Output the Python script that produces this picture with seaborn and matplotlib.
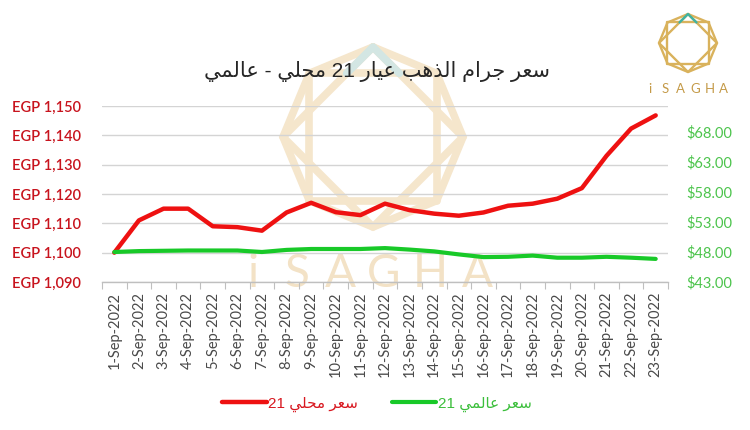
import matplotlib
matplotlib.use("Agg")
import matplotlib.pyplot as plt
from matplotlib.ticker import FixedLocator, FuncFormatter
from matplotlib.lines import Line2D
import seaborn as sns
import pandas as pd
import numpy as np

# data
dates = ["1-Sep-2022", "2-Sep-2022", "3-Sep-2022", "4-Sep-2022", "5-Sep-2022",
         "6-Sep-2022", "7-Sep-2022", "8-Sep-2022", "9-Sep-2022", "10-Sep-2022",
         "11-Sep-2022", "12-Sep-2022", "13-Sep-2022", "14-Sep-2022", "15-Sep-2022",
         "16-Sep-2022", "17-Sep-2022", "18-Sep-2022", "19-Sep-2022", "20-Sep-2022",
         "21-Sep-2022", "22-Sep-2022", "23-Sep-2022"]
local_egp = [1100, 1111, 1115, 1115, 1109, 1108.7, 1107.5, 1113.7, 1117, 1113.8,
             1112.8, 1116.7, 1114.5, 1113.3, 1112.6, 1113.7, 1116, 1116.7, 1118.4,
             1122, 1133, 1142.3, 1146.8]
global_usd = [48.0, 48.15, 48.2, 48.25, 48.25, 48.25, 48.0, 48.35, 48.5, 48.5,
              48.5, 48.65, 48.4, 48.1, 47.6, 47.15, 47.2, 47.4, 47.05, 47.05,
              47.2, 47.05, 46.85]
left_ticks = [1090, 1100, 1110, 1120, 1130, 1140, 1150]
right_ticks = [43, 48, 53, 58, 63, 68]

title_ar = "سعر جرام الذهب عيار 21 محلي - عالمي"
label_local = "سعر محلي 21"
label_global = "سعر عالمي 21"

RED = "#ee1111"
GREEN = "#18c928"


# minimal arabic shaping (matplotlib has no bidi / joining support)
DUAL = {"ب": 0xFE8F, "ج": 0xFE9D, "ح": 0xFEA1, "س": 0xFEB1, "ع": 0xFEC9,
        "ل": 0xFEDD, "م": 0xFEE1, "ه": 0xFEE9, "ي": 0xFEF1}
RIGHT = {"ا": 0xFE8D, "ذ": 0xFEAB, "ر": 0xFEAD}


def shape_ar(s):
    out = []
    for i, ch in enumerate(s):
        if ch not in DUAL and ch not in RIGHT:
            out.append(ch)
            continue
        prev = s[i - 1] if i > 0 else ""
        nxt = s[i + 1] if i + 1 < len(s) else ""
        joins_prev = prev in DUAL
        joins_next = ch in DUAL and (nxt in DUAL or nxt in RIGHT)
        if ch in RIGHT:
            out.append(chr(RIGHT[ch] + (1 if joins_prev else 0)))
        else:
            off = 3 if (joins_prev and joins_next) else 1 if joins_prev else 2 if joins_next else 0
            out.append(chr(DUAL[ch] + off))
    vis = "".join(out)[::-1]
    # put digit runs back in reading order
    res, run = "", ""
    for ch in vis:
        if ch.isdigit():
            run += ch
        else:
            res += run[::-1] + ch
            run = ""
    return res + run[::-1]


df = pd.DataFrame({"pos": range(len(dates)), "date": dates,
                   "local": local_egp, "global": global_usd})

sns.set_theme(style="white")
plt.rcParams["font.family"] = ["Lato", "DejaVu Sans"]

fig = plt.figure(figsize=(7.5, 4.3), dpi=100)
fig.patch.set_facecolor("white")

# watermark / logo layer (pixel coordinates)
wm = fig.add_axes([0, 0, 1, 1], zorder=-1)
wm.set_xlim(0, 750)
wm.set_ylim(430, 0)
wm.axis("off")


def draw_logo(cx, cy, r, lw, col, teal):
    ang = np.deg2rad(-90 + 45 * np.arange(8))
    px = cx + r * np.cos(ang)
    py = cy + r * np.sin(ang)
    ring = list(range(8)) + [0]
    wm.plot(px[ring], py[ring], color=col, lw=lw, solid_joinstyle="miter")
    for idx in ([0, 2, 4, 6, 0], [1, 3, 5, 7, 1]):
        wm.plot(px[idx], py[idx], color=col, lw=lw)
    k = 1 - np.sqrt(0.5)
    wm.plot([cx - k * r, cx, cx + k * r],
            [cy - np.sqrt(0.5) * r, cy - r, cy - np.sqrt(0.5) * r], color=teal, lw=lw)


draw_logo(373, 137, 90, 5.5, "#f5e6cc", "#d3e6e3")
for x, ch in zip([253, 297, 340, 384, 430, 477], "iSAGHA"):
    wm.text(x, 274, ch, fontsize=33, color="#f3e2c6", ha="center", va="center")
draw_logo(688, 43, 29, 1.7, "#d9b25c", "#3fb2a2")
for x, ch in zip([650, 665, 680, 695, 710, 723], "iSAGHA"):
    wm.text(x, 89, ch, fontsize=9.5, color="#c49a48", ha="center", va="center")

ax = fig.add_axes([102 / 750, 1 - 282 / 430, 566 / 750, 176 / 430])
ax.set_facecolor("none")
sns.lineplot(data=df, x="pos", y="local", ax=ax, color=RED, lw=3.2, legend=False)
ax2 = ax.twinx()
ax2.set_facecolor("none")
sns.lineplot(data=df, x="pos", y="global", ax=ax2, color=GREEN, lw=3.0, legend=False)

ax.set_xlim(-0.5, len(dates) - 0.5)
ax.set_ylim(left_ticks[0], left_ticks[-1])
ax2.set_ylim(43, 43 + 176 / 6)

ax.yaxis.set_major_locator(FixedLocator(left_ticks))
ax.yaxis.set_major_formatter(FuncFormatter(lambda v, p: f"EGP {v:,.0f}"))
ax2.yaxis.set_major_locator(FixedLocator(right_ticks))
ax2.yaxis.set_major_formatter(FuncFormatter(lambda v, p: f"${v:.2f}"))

ax.set_xticks(df["pos"])
ax.set_xticklabels(dates, rotation=90, fontsize=10.5, color="#4a4a4a")
ax.set_xticks(np.arange(len(dates) + 1) - 0.5, minor=True)
ax.tick_params(axis="x", which="major", length=0, pad=7)
ax.tick_params(axis="x", which="minor", length=5, width=0.8, color="#bfbfbf",
               direction="out", bottom=True)
ax.tick_params(axis="y", length=0, pad=15, labelsize=10.5, labelcolor="#c8141e")
for t in ax.get_yticklabels():
    t.set_fontweight("semibold")
ax2.tick_params(axis="y", length=0, pad=13, labelsize=10.5, labelcolor="#4cc44c")

ax.yaxis.grid(True, color="#d4d4d4", lw=1)
ax.set_axisbelow(True)
ax.set_xlabel("")
ax.set_ylabel("")
ax2.set_ylabel("")
for a in (ax, ax2):
    for side in ("top", "left", "right"):
        a.spines[side].set_visible(False)
ax2.spines["bottom"].set_visible(False)
ax.spines["bottom"].set_color("#bfbfbf")
ax.spines["bottom"].set_linewidth(1)

fig.text(0.503, 1 - 72 / 430, shape_ar(title_ar), ha="center", va="center",
         fontsize=15, color="#262626", family=["Liberation Sans", "DejaVu Sans"])

handles = [Line2D([], [], color=RED, lw=3.2), Line2D([], [], color=GREEN, lw=3.0)]
leg = fig.legend(handles, [shape_ar(label_local), shape_ar(label_global)],
                 loc="center", bbox_to_anchor=(377 / 750, 1 - 404 / 430), ncol=2,
                 frameon=False, handlelength=2.9, handletextpad=0.1,
                 columnspacing=2.2, prop={"family": ["Liberation Sans", "DejaVu Sans"],
                                          "size": 11})
for txt, c in zip(leg.get_texts(), ("#d81820", "#3cbf3c")):
    txt.set_color(c)

fig.savefig("out.png", dpi=100)
